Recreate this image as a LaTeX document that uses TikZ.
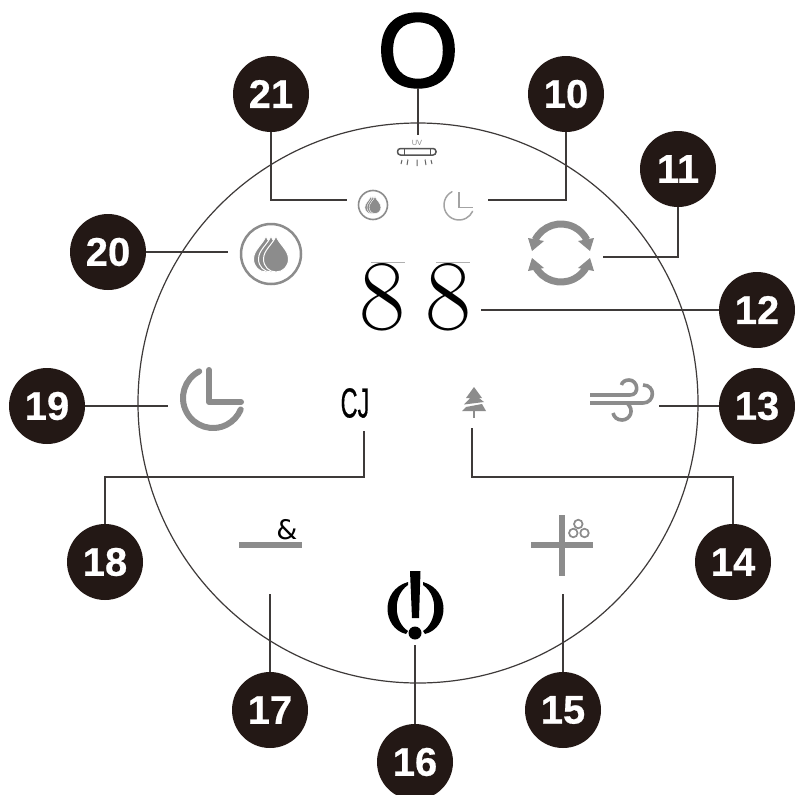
\documentclass[tikz,border=0pt]{standalone}
\usepackage{fontspec}
\usepackage{graphicx}
\newfontfamily\labelfont[FakeBold=0.5]{Liberation Sans Bold}
\newfontfamily\bigofont[FakeBold=2]{Liberation Sans}
\newfontfamily\plainfont{Liberation Sans}
\newfontfamily\cjfont[FakeBold=0.6]{Liberation Sans}
\newfontfamily\ampfont{DejaVu Sans}
\definecolor{badgecol}{HTML}{231815}
\definecolor{linecol}{HTML}{3E3A39}
\definecolor{icongray}{HTML}{8C8C8C}
\definecolor{lightgray2}{HTML}{B0B0B0}
\tikzset{
  badge/.style={circle,fill=badgecol,text=white,minimum size=76pt,inner sep=0pt,font=\labelfont\fontsize{40}{40}\selectfont},
  leader/.style={draw=linecol,line width=1.3pt},
  heavy/.style={draw=icongray,line width=6pt},
  thinicon/.style={draw=icongray!80,line width=1.5pt},
  glyph/.style={inner sep=0pt,text=black}
}
\newcommand{\dropshape}{(0,-18) .. controls (3,-10) and (12.5,-4) .. (12.5,5) .. controls (12.5,12.5) and (7,18) .. (0,18) .. controls (-7,18) and (-12.5,12.5) .. (-12.5,5) .. controls (-12.5,-4) and (-3,-10) .. (0,-18) -- cycle}
\begin{document}
\begin{tikzpicture}[x=1pt,y=-1pt]
\useasboundingbox (0,0) rectangle (795,795);
\fill[white] (0,0) rectangle (795,795);
% outer circle
\node[circle,draw=linecol,line width=1.2pt,minimum size=560pt,inner sep=0pt] (dial) at (418,403) {};
% badges
\node[badge] (b21) at (271,94) {21};
\node[badge] (b10) at (566,94) {10};
\node[badge] (b11) at (678,169) {11};
\node[badge] (b12) at (757,310) {12};
\node[badge] (b13) at (757,406) {13};
\node[badge] (b14) at (733,562) {14};
\node[badge] (b15) at (563,710) {15};
\node[badge] (b16) at (415,762) {16};
\node[badge] (b17) at (270,710) {17};
\node[badge] (b18) at (105,562) {18};
\node[badge] (b19) at (47,406) {19};
\node[badge] (b20) at (108,252) {20};
% big O
\node[glyph,font=\bigofont\fontsize{105}{105}\selectfont] (bigo) at (418,50.5) {O};
% connector ends
\coordinate (iuv) at (418,135);
\coordinate (i21) at (347,200);
\coordinate (i10) at (488,200);
\coordinate (i11) at (603,257);
\coordinate (i12) at (481,310);
\coordinate (i13) at (659,406);
\coordinate (i14) at (472,428);
\coordinate (i15) at (563,594);
\coordinate (i16) at (415,645);
\coordinate (i17) at (270,594);
\coordinate (i18) at (364,431);
\coordinate (i19) at (168,406);
\coordinate (i20) at (228,252);
\coordinate (k14) at (733,477);
\coordinate (k18) at (105,477);
\draw[leader] (bigo.south) -- (iuv);
\draw[leader] (b21.south) |- (i21);
\draw[leader] (b10.south) |- (i10);
\draw[leader] (b11.south) |- (i11);
\draw[leader] (b12.west) -- (i12);
\draw[leader] (b13.west) -- (i13);
\draw[leader] (b14.north) -- (k14) -| (i14);
\draw[leader] (b15.north) -- (i15);
\draw[leader] (b16.north) -- (i16);
\draw[leader] (b17.north) -- (i17);
\draw[leader] (b18.north) -- (k18) -| (i18);
\draw[leader] (b19.east) -- (i19);
\draw[leader] (b20.east) -- (i20);
% UV lamp
\node[text=icongray,inner sep=0pt,font=\plainfont\fontsize{7.5}{7.5}\selectfont] (uvtext) at (417,143) {UV};
\draw[icongray!60!black,line width=1.5pt,rounded corners=3pt] (397.5,148.5) rectangle (436,155);
\draw[icongray!60!black,line width=1pt] (404,148.5) -- (404,155) (430,148.5) -- (430,155);
\draw[icongray!70!black,line width=1pt] (402,160) -- (401,164) (408,159.5) -- (407,165) (417,159.5) -- (417,166) (425,159.5) -- (426,165) (431,160) -- (432,164);
% small drop
\draw[icongray,line width=1.6pt] (373,205) circle[radius=14.5];
\begin{scope}[shift={(375,205)},scale=.47]
\foreach \d in {-9,-4.5,0}{\fill[icongray,draw=white,line width=.4pt,shift={(\d,0)}] \dropshape;}
\end{scope}
% small clock
\draw[thinicon,line cap=round] (459,205)+(242:15) arc[start angle=242,end angle=25,radius=15];
\draw[thinicon] (459,192) -- (459,207.5) -- (473,207.5);
% large drop
\draw[icongray,line width=2.5pt] (271,254) circle[radius=30];
\begin{scope}[shift={(276,254)}]
\foreach \d in {-10,-5,0}{\fill[icongray,draw=white,line width=1pt,shift={(\d,0)}] \dropshape;}
\end{scope}
% refresh arrows
\draw[icongray,line width=7pt] (561,253)+(-153:29) arc[start angle=-153,end angle=-27,radius=29];
\draw[icongray,line width=7pt] (561,253)+(153:29) arc[start angle=153,end angle=27,radius=29];
\fill[icongray] (528,238) -- (544,241) -- (532,251) -- cycle;
\fill[icongray] (594,238) -- (578,241) -- (590,251) -- cycle;
\fill[icongray] (528,271) -- (544,268) -- (532,258) -- cycle;
\fill[icongray] (594,271) -- (578,268) -- (590,258) -- cycle;
% 88
\node[glyph,font=\rmfamily\fontsize{100}{100}\selectfont] (d1) at (382,297.5) {8};
\node[glyph,font=\rmfamily\fontsize{100}{100}\selectfont] (d2) at (448,297.5) {8};
\draw[lightgray2,line width=1pt] (371,262) -- (405,262) (436,262) -- (470,262);
% CJ
\node[glyph,font=\cjfont\fontsize{42}{42}\selectfont] (cj) at (355,403) {\scalebox{.56}[1]{CJ}};
% tree
\fill[icongray] (474,387) -- (482,398) -- (466,398) -- cycle;
\fill[icongray] (474,394) -- (484,402) -- (464,404.5) -- cycle;
\fill[icongray] (466,407) -- (482,404) -- (486,411) -- (462,411) -- cycle;
\draw[icongray,line width=2.6pt] (474,410) -- (474,418);
% large clock
\draw[heavy,line cap=round] (213,398)+(242.6:30) arc[start angle=242.6,end angle=22.5,radius=30];
\draw[heavy,line cap=round,line join=round] (209,370) -- (209,402) -- (241,402);
% wind
\begin{scope}[icongray,line width=3.6pt]
\draw (590,395) -- (630,395) .. controls (640,395) and (638,380) .. (629,380) .. controls (625,380) and (622,382) .. (621.5,385);
\draw (590,403) -- (643,403) .. controls (655,403) and (656,385) .. (643,385);
\draw (627,403) .. controls (635,410) and (630,420) .. (622,420) .. controls (617,420) and (614,417) .. (613,413);
\end{scope}
% 17
\draw[icongray,line width=6pt] (239,545) -- (302,545);
\node[glyph,font=\ampfont\fontsize{27}{27}\selectfont] (amp) at (287,530) {\&};
% 15
\draw[icongray,line width=6pt] (531,545) -- (593,545) (562,515) -- (562,576);
\fill[icongray] (578.3,524) circle[radius=5.2] (573.3,533) circle[radius=5.2] (584.5,533) circle[radius=5.2];
\fill[white] (578.3,524) circle[radius=3.2] (573.3,533) circle[radius=3.2] (584.5,533) circle[radius=3.2];
% 16 power
\fill[black] (410,571) -- (420.5,571) -- (419,618) -- (412,618) -- cycle;
\fill[black] (415,633) circle[radius=6.5];
\fill[black] (408,582) .. controls (380,590) and (382,628) .. (406,634) -- (408,631) .. controls (394,622) and (392,596) .. (408,585) -- cycle;
\fill[black] (423,582) .. controls (451,590) and (449,628) .. (425,634) -- (423,631) .. controls (437,622) and (439,596) .. (423,585) -- cycle;
\end{tikzpicture}
\end{document}
